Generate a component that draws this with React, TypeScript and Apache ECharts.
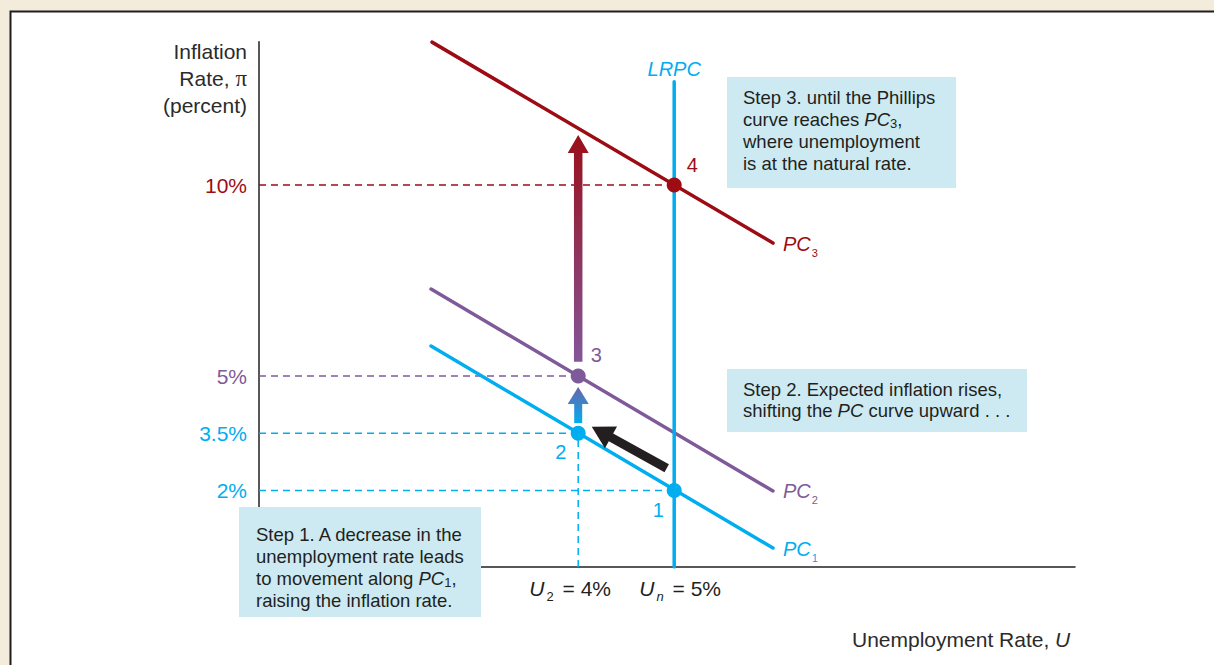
import React, { useEffect, useRef } from "react";
import * as echarts from "echarts";

const FONT = '"Liberation Sans", Arial, Helvetica, sans-serif';
const SERIF = '"Liberation Serif", "Times New Roman", serif';

const BLUE = "#00aeef";
const PURPLE = "#7f5a9a";
const RED = "#9d0c14";
const INK = "#231f20";
const BOX = "#cdeaf2";
const BEIGE = "#f3ebdc";

// axis ranges (percent)
const uMin = 0.675;
const uMax = 9.175;
const piMin = 0;
const piMax = 13.75;

// tick labels
const inflationTicks = [2, 3.5, 5, 10];
const inflationTickLabels = ["2%", "3.5%", "5%", "10%"];
const unemploymentTicks = [4, 5];
const unemploymentSubscripts = ["2", "n"];
const unemploymentTickLabels = ["4%", "5%"];

// curves [U, pi]
const pc1 = [[2.467, 5.785], [6.029, 0.497]];
const pc2 = [[2.467, 7.277], [6.029, 1.99]];
const pc3 = [[2.477, 13.74], [6.029, 8.48]];
const lrpc = [[5, 0], [5, 12.7]];

// equilibrium points
const pointNames = ["1", "2", "3", "4"];
const pointU = [5, 4, 4, 5];
const pointPi = [2, 3.5, 5, 10];

// arrows [U from, pi from, U to, pi to]
const moveArrow = [4.922, 2.584, 4.141, 3.673];
const shiftArrowSmall = [4, 3.77, 4, 4.71];
const shiftArrowLarge = [4, 5.37, 4, 11.31];

export default function App() {
  const ref = useRef<HTMLDivElement>(null);

  useEffect(() => {
    if (!ref.current) return;
    const chart = echarts.init(ref.current, null, { renderer: "svg" });

    const tickColors = [BLUE, BLUE, PURPLE, RED];
    const pointColors = [BLUE, BLUE, PURPLE, RED];
    const pointLabelOffsets = [[-16, 19], [-17.5, 19], [18, -21], [18, -20.5]];
    const xLabelOffsets = [[-8, 21], [6, 21]];
    const xSubStyle = ["s", "si"];

    const rs = (size: number, color: string, italic = false, extra: any = {}) => ({
      fontSize: size,
      fontFamily: FONT,
      fontStyle: italic ? "italic" : "normal",
      color,
      ...extra,
    });
    const gs = (size: number, color: string, italic = false, extra: any = {}) => ({
      fontSize: size,
      fontFamily: FONT,
      fontStyle: italic ? "italic" : "normal",
      fill: color,
      ...extra,
    });

    const guideSeries: any[] = [];
    pointNames.forEach((_, i) => {
      guideSeries.push({
        type: "line",
        data: [[uMin, pointPi[i]], [pointU[i], pointPi[i]]],
        symbol: "none",
        silent: true,
        z: 1,
        lineStyle: { color: pointColors[i], width: 1.5, type: [7, 5] },
      });
    });
    guideSeries.push({
      type: "line",
      data: [[pointU[1], piMin], [pointU[1], pointPi[1]]],
      symbol: "none",
      silent: true,
      z: 1,
      lineStyle: { color: BLUE, width: 1.5, type: [7, 5] },
    });

    const curve = (data: number[][], color: string) => ({
      type: "line",
      data,
      symbol: "none",
      silent: true,
      z: 3,
      lineStyle: { color, width: 3.5, cap: "round" },
    });

    const arrowLook = [
      { shaft: 9, headW: 25, headL: 22, stops: [[0, INK], [1, INK]] },
      { shaft: 8, headW: 21, headL: 17, stops: [[0, "#6a62ab"], [1, BLUE]] },
      { shaft: 8.5, headW: 21, headL: 18, stops: [[0, "#9a0f18"], [1, "#83569a"]] },
    ];

    const pcRich = (color: string) => ({
      i: rs(20, color, true, { lineHeight: 29 }),
      s: rs(11, color, false, { lineHeight: 11, verticalAlign: "bottom", padding: [0, 0, 0, 1] }),
    });

    const xRich = {
      u: rs(21, INK, true, { lineHeight: 30 }),
      s: rs(13, INK, false, { lineHeight: 13, verticalAlign: "bottom", padding: [0, 3, 0, 2] }),
      si: rs(13, INK, true, { lineHeight: 13, verticalAlign: "bottom", padding: [0, 3, 0, 2] }),
      t: rs(21, INK, false, { lineHeight: 30 }),
    };

    const boxRich = {
      i: gs(18.5, INK, true, { lineHeight: 22 }),
      s: gs(13, INK, false, { lineHeight: 13, verticalAlign: "bottom" }),
    };

    const yRich: any = {};
    tickColors.forEach((c, i) => (yRich["c" + i] = rs(21, c)));

    const option: any = {
      animation: false,
      backgroundColor: BEIGE,
      grid: {
        left: 259,
        right: 139,
        top: 41.75,
        bottom: 98,
        containLabel: false,
        outerBoundsMode: "none",
      },
      xAxis: {
        type: "value",
        min: uMin,
        max: uMax,
        axisLine: { show: true, onZero: false, lineStyle: { color: INK, width: 1.5 } },
        axisTick: { show: false },
        axisLabel: { show: false },
        splitLine: { show: false },
      },
      yAxis: {
        type: "value",
        min: piMin,
        max: piMax,
        axisLine: { show: true, onZero: false, lineStyle: { color: INK, width: 1.5 } },
        axisTick: { show: false },
        splitLine: { show: false },
        axisLabel: {
          show: true,
          customValues: inflationTicks,
          margin: 12,
          formatter: (v: number) => {
            const i = inflationTicks.indexOf(v);
            return i < 0 ? "" : `{c${i}|${inflationTickLabels[i]}}`;
          },
          rich: yRich,
        },
      },
      graphic: [
        {
          type: "rect",
          z: -100,
          silent: true,
          shape: { x: 10.5, y: 11.5, width: 1300, height: 700 },
          style: { fill: "#ffffff", stroke: "#1e1e1e", lineWidth: 2 },
        },
        {
          type: "text",
          z: 50,
          x: 247,
          y: 38,
          style: {
            text: "Inflation\nRate, {pi|π}\n(percent)",
            align: "right",
            verticalAlign: "top",
            fontSize: 21,
            fontFamily: FONT,
            fill: "#2b2b2b",
            lineHeight: 27,
            rich: {
              pi: { fontSize: 23, fontFamily: SERIF, fill: "#2b2b2b", lineHeight: 27 },
            },
          },
        },
        {
          type: "text",
          z: 50,
          x: 852,
          y: 639,
          style: {
            text: "Unemployment Rate, {u|U}",
            align: "left",
            verticalAlign: "middle",
            fontSize: 21,
            fontFamily: FONT,
            fill: "#2b2b2b",
            rich: { u: gs(21, "#2b2b2b", true) },
          },
        },
        // Step 3 box
        {
          type: "rect",
          z: 60,
          shape: { x: 727, y: 77, width: 229, height: 111 },
          style: { fill: BOX },
        },
        {
          type: "text",
          z: 61,
          x: 743,
          y: 86,
          style: {
            text:
              "Step 3. until the Phillips\ncurve reaches {i|PC}{s|3},\nwhere unemployment\nis at the natural rate.",
            align: "left",
            verticalAlign: "top",
            fontSize: 18.5,
            fontFamily: FONT,
            fill: INK,
            lineHeight: 22,
            rich: boxRich,
          },
        },
        // Step 2 box
        {
          type: "rect",
          z: 60,
          shape: { x: 727, y: 369, width: 300, height: 63 },
          style: { fill: BOX },
        },
        {
          type: "text",
          z: 61,
          x: 743,
          y: 379,
          style: {
            text: "Step 2. Expected inflation rises,\nshifting the {i|PC} curve upward . . .",
            align: "left",
            verticalAlign: "top",
            fontSize: 18.5,
            fontFamily: FONT,
            fill: INK,
            lineHeight: 21,
            rich: { i: gs(18.5, INK, true, { lineHeight: 21 }) },
          },
        },
        // Step 1 box
        {
          type: "rect",
          z: 60,
          shape: { x: 239, y: 507, width: 242, height: 110 },
          style: { fill: BOX },
        },
        {
          type: "text",
          z: 61,
          x: 256,
          y: 523,
          style: {
            text:
              "Step 1. A decrease in the\nunemployment rate leads\nto movement along {i|PC}{s|1},\nraising the inflation rate.",
            align: "left",
            verticalAlign: "top",
            fontSize: 18.5,
            fontFamily: FONT,
            fill: INK,
            lineHeight: 22,
            rich: boxRich,
          },
        },
      ],
      series: [
        ...guideSeries,
        curve(pc1, BLUE),
        curve(pc2, PURPLE),
        curve(pc3, RED),
        curve(lrpc, BLUE),
        {
          type: "custom",
          z: 5,
          silent: true,
          encode: { x: [0, 2], y: [1, 3] },
          data: [moveArrow, shiftArrowSmall, shiftArrowLarge],
          renderItem: (params: any, api: any) => {
            const look = arrowLook[params.dataIndex];
            const a = api.coord([api.value(0), api.value(1)]);
            const b = api.coord([api.value(2), api.value(3)]);
            const dx = b[0] - a[0];
            const dy = b[1] - a[1];
            const len = Math.hypot(dx, dy) || 1;
            const ux = dx / len;
            const uy = dy / len;
            const nx = -uy;
            const ny = ux;
            const sw = look.shaft / 2;
            const hw = look.headW / 2;
            const bx = b[0] - ux * look.headL;
            const by = b[1] - uy * look.headL;
            const points = [
              [a[0] + nx * sw, a[1] + ny * sw],
              [bx + nx * sw, by + ny * sw],
              [bx + nx * hw, by + ny * hw],
              [b[0], b[1]],
              [bx - nx * hw, by - ny * hw],
              [bx - nx * sw, by - ny * sw],
              [a[0] - nx * sw, a[1] - ny * sw],
            ];
            return {
              type: "polygon",
              shape: { points },
              style: {
                fill: new echarts.graphic.LinearGradient(
                  b[0],
                  b[1],
                  a[0],
                  a[1],
                  look.stops.map(([o, c]) => ({ offset: o as number, color: c as string })),
                  true
                ),
              },
            };
          },
        },
        {
          type: "scatter",
          z: 8,
          silent: true,
          symbolSize: 15,
          itemStyle: { opacity: 1 },
          data: pointNames.map((n, i) => ({
            value: [pointU[i], pointPi[i]],
            itemStyle: { color: pointColors[i], opacity: 1 },
            label: {
              show: true,
              position: "inside",
              offset: pointLabelOffsets[i],
              formatter: n,
              ...rs(20, pointColors[i]),
            },
          })),
        },
        {
          type: "scatter",
          z: 9,
          silent: true,
          symbolSize: 0,
          itemStyle: { opacity: 1 },
          data: [
            {
              value: pc3[1],
              label: { show: true, position: "right", distance: 10, offset: [0, 1], formatter: "{i|PC}{s|3}", rich: pcRich(RED) },
            },
            {
              value: pc2[1],
              label: { show: true, position: "right", distance: 10, offset: [0, 0], formatter: "{i|PC}{s|2}", rich: pcRich(PURPLE) },
            },
            {
              value: pc1[1],
              label: { show: true, position: "right", distance: 10, offset: [0, 1], formatter: "{i|PC}{s|1}", rich: pcRich(BLUE) },
            },
            {
              value: lrpc[1],
              label: { show: true, position: "inside", offset: [0, -12.5], formatter: "LRPC", ...rs(20, BLUE, true) },
            },
            ...unemploymentTicks.map((u, i) => ({
              value: [u, piMin],
              label: {
                show: true,
                position: "inside",
                offset: xLabelOffsets[i],
                formatter: `{u|U}{${xSubStyle[i]}|${unemploymentSubscripts[i]}}{t| = ${unemploymentTickLabels[i]}}`,
                rich: xRich,
              },
            })),
          ],
        },
      ],
    };

    chart.setOption(option);
    return () => chart.dispose();
  }, []);

  return (
    <div
      ref={ref}
      style={{ position: "fixed", left: 0, top: 0, width: 1214, height: 665 }}
    />
  );
}
